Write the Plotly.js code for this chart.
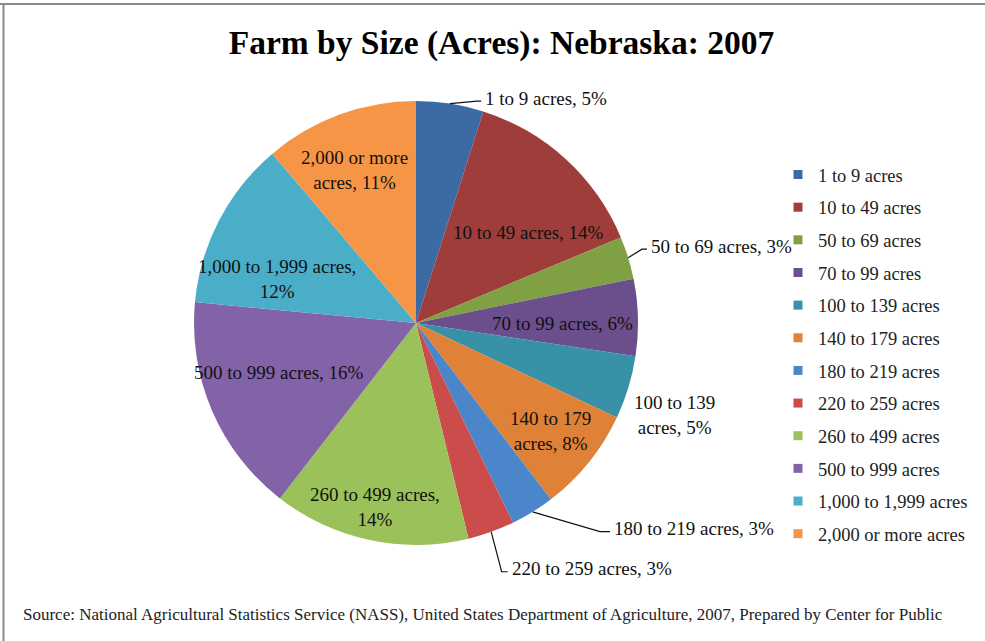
<!DOCTYPE html>
<html>
<head>
<meta charset="utf-8">
<script src="https://cdn.plot.ly/plotly-3.0.1.min.js"></script>
<style>html,body{margin:0;padding:0;background:#fff;}#chart{width:985px;height:641px;}</style>
</head>
<body>
<div id="chart"></div>
<script>
// ---- data ----
const titleText = 'Farm by Size (Acres): Nebraska: 2007';
const sourceText = 'Source: National Agricultural Statistics Service (NASS), United States Department of Agriculture, 2007, Prepared by Center for Public';
const categories = ['1 to 9 acres', '10 to 49 acres', '50 to 69 acres', '70 to 99 acres', '100 to 139 acres', '140 to 179 acres', '180 to 219 acres', '220 to 259 acres', '260 to 499 acres', '500 to 999 acres', '1,000 to 1,999 acres', '2,000 or more acres'];
const shares = [4.9, 13.8, 3.1, 5.6, 4.6, 7.6, 3.2, 3.4, 14.3, 16.0, 12.3, 11.2];

// ---- style ----
const colors = ['#3C6AA5', '#9E3D3A', '#7FA144', '#6A4F8C', '#3891A7', '#DF8136', '#4A86C9', '#CB4D4B', '#9BC15A', '#8263A7', '#4AAEC9', '#F79546'];
const W = 985, H = 641, CX = 416, CY = 323, R = 222;
const labelWrap = ['', '', '', '', 'name', 'name', '', '', 'pct', '', 'pct', 'name'];
const labelPlace = [
  {kind: 'out', elbow: [15.4, 1.037], hl: 4},
  {kind: 'in', at: [51.2, 0.653]},
  {kind: 'out', elbow: [71.9, 1.071], hl: 5},
  {kind: 'in', at: [90, 0.66]},
  {kind: 'in', at: [109.6, 1.234]},
  {kind: 'in', at: [128.7, 0.779]},
  {kind: 'out', elbow: [138.6, 1.253], hl: 10},
  {kind: 'out', elbow: [161, 1.185], hl: 6},
  {kind: 'in', at: [192.5, 0.851]},
  {kind: 'in', at: [250.1, 0.656]},
  {kind: 'in', at: [287.7, 0.655]},
  {kind: 'in', at: [338.1, 0.744]}
];
const serif = 'Liberation Serif, Times New Roman, serif';

function pt(angDeg, rf) {
  const a = angDeg * Math.PI / 180;
  return [CX + rf * R * Math.sin(a), CY - rf * R * Math.cos(a)];
}
function px(x) { return x / W; }
function py(y) { return 1 - y / H; }

const total = shares.reduce((a, b) => a + b, 0);
const annotations = [];
const shapes = [];
let cum = 0;
shares.forEach((v, i) => {
  const mid = (cum + v / 2) / total * 360;
  cum += v;
  const pct = Math.round(v / total * 100);
  let txt = categories[i] + ', ' + pct + '%';
  if (labelWrap[i] === 'name') txt = txt.replace(' acres', '<br>acres');
  if (labelWrap[i] === 'pct') txt = txt.replace(', ', ',<br>');
  const lp = labelPlace[i];
  if (lp.kind === 'in') {
    const p = pt(lp.at[0], lp.at[1]);
    annotations.push({xref: 'paper', yref: 'paper', x: px(p[0]), y: py(p[1]), text: txt, showarrow: false,
      xanchor: 'center', yanchor: 'middle', align: 'center', font: {family: serif, size: 19, color: '#111'}});
  } else {
    const a0 = pt(mid, 1.0);
    const e = pt(lp.elbow[0], lp.elbow[1]);
    const endX = e[0] + lp.hl;
    shapes.push({type: 'path', xref: 'paper', yref: 'paper',
      path: 'M ' + px(a0[0]) + ' ' + py(a0[1]) + ' L ' + px(e[0]) + ' ' + py(e[1]) + ' L ' + px(endX) + ' ' + py(e[1]),
      line: {color: '#111', width: 1.2}});
    annotations.push({xref: 'paper', yref: 'paper', x: px(endX + 2), y: py(e[1]), yshift: 3, text: txt, showarrow: false,
      xanchor: 'left', yanchor: 'middle', align: 'left', font: {family: serif, size: 19, color: '#111'}});
  }
});

annotations.push({xref: 'paper', yref: 'paper', x: px(21), y: py(614), text: sourceText, showarrow: false,
  xanchor: 'left', yanchor: 'middle', font: {family: serif, size: 17, color: '#222'}});

// frame lines
shapes.push({type: 'line', xref: 'paper', yref: 'paper', x0: 0, x1: 1, y0: py(4), y1: py(4), line: {color: '#8a8a8a', width: 2}});
shapes.push({type: 'line', xref: 'paper', yref: 'paper', x0: px(3.5), x1: px(3.5), y0: py(4), y1: 0, line: {color: '#8a8a8a', width: 2}});

const pieTrace = {
  type: 'pie', labels: categories, values: shares, sort: false, direction: 'clockwise', rotation: 0,
  marker: {colors: colors, line: {width: 0}}, textinfo: 'none', showlegend: false,
  domain: {x: [px(CX - R), px(CX + R)], y: [py(CY + R), py(CY - R)]}
};

const legendTraces = categories.map((c, i) => ({
  type: 'scatter', mode: 'markers', x: [-1], y: [-1], name: c, legendgroup: 'g' + i,
  marker: {symbol: 'square', size: 9, color: colors[i]}, hoverinfo: 'skip', showlegend: true
}));

const layout = {
  width: W, height: H,
  margin: {l: 0, r: 0, t: 0, b: 0},
  paper_bgcolor: '#fff', plot_bgcolor: '#fff',
  title: {text: '<b>' + titleText + '</b>', font: {family: serif, size: 33.5, color: '#000'},
    x: px(501.5), xanchor: 'center', xref: 'paper', y: py(42), yref: 'paper', yanchor: 'middle'},
  xaxis: {visible: false, range: [0, 1], fixedrange: true},
  yaxis: {visible: false, range: [0, 1], fixedrange: true},
  showlegend: true,
  legend: {x: px(778), xanchor: 'left', y: py(156), yanchor: 'top', tracegroupgap: 5.6,
    font: {family: serif, size: 18.5, color: '#222'}, bgcolor: 'rgba(0,0,0,0)', borderwidth: 0},
  annotations: annotations,
  shapes: shapes
};

Plotly.newPlot('chart', [pieTrace].concat(legendTraces), layout, {displayModeBar: false, staticPlot: true});
</script>
</body>
</html>
